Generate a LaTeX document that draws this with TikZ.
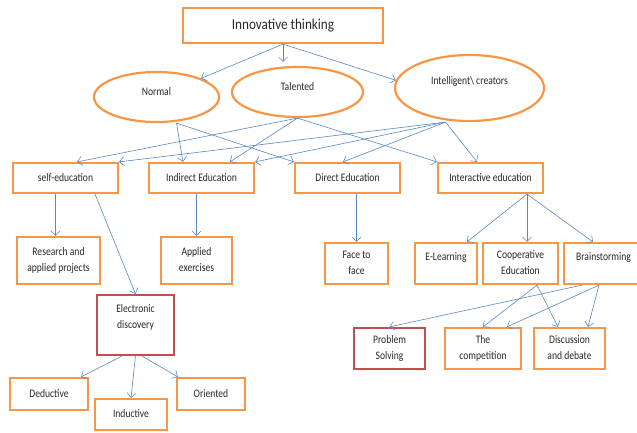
\documentclass[tikz,border=0pt]{standalone}
\usepackage{fontspec}
\setmainfont{Carlito}
\usepackage{graphicx}
\usepackage{tikz}
\usetikzlibrary{arrows.meta,shapes,positioning}
\definecolor{dforange}{RGB}{247,150,70}
\definecolor{dfred}{RGB}{192,80,77}
\definecolor{dfblue}{RGB}{88,136,196}
\definecolor{dftext}{RGB}{40,40,40}
\newcommand{\celltext}[1]{\scalebox{1}[1.2]{\begin{tabular}{@{}c@{}}#1\end{tabular}}}
\tikzstyle{arrow} = [line width=0.6pt,-{Straight Barb[length=4.5pt,width=9pt]},color=dfblue]
\tikzstyle{block} = [rectangle, draw=dforange, line width=2.2pt, inner sep=0pt, text=dftext, font=\fontsize{9.6}{13.5}\selectfont]
\tikzstyle{redblock} = [block, draw=dfred]
\tikzstyle{oval} = [block, ellipse]

\begin{document}
\begin{tikzpicture}[x=1pt, y=-1pt]
\useasboundingbox (0,0) rectangle (637,432);

% Root and the three kinds of learners
\node[block, minimum width=200pt, minimum height=35pt, font=\fontsize{13.2}{16}\selectfont] (think) at (283,25.5) {\scalebox{1}[1.15]{Innovative thinking}};
\node[oval, minimum width=125pt, minimum height=50pt, text depth=14pt] (normal) at (156.5,97) {\celltext{Normal}};
\node[oval, minimum width=131pt, minimum height=50pt, text depth=14pt] (talented) at (297.5,92) {\celltext{Talented}};
\node[oval, minimum width=149pt, minimum height=66pt, text depth=18pt] (intel) at (469.5,88) {\celltext{Intelligent\textbackslash{} creators}};

% Kinds of education
\node[block, minimum width=105pt, minimum height=30pt] (selfedu) at (65.5,178) {\celltext{self-education}};
\node[block, minimum width=105pt, minimum height=30pt] (indirect) at (201.5,178) {\celltext{Indirect Education}};
\node[block, minimum width=105pt, minimum height=30pt] (direct) at (347.5,178) {\celltext{Direct Education}};
\node[block, minimum width=105pt, minimum height=30pt] (interact) at (490.5,178) {\celltext{Interactive education}};

% Methods
\node[block, minimum width=83pt, minimum height=47pt] (research) at (58.5,260.5) {\celltext{Research and\\applied projects}};
\node[block, minimum width=71pt, minimum height=47pt] (applied) at (196.5,260.5) {\celltext{Applied\\exercises}};
\node[block, minimum width=63pt, minimum height=41pt] (face) at (356.5,263.5) {\celltext{Face to\\face}};
\node[block, minimum width=62pt, minimum height=41pt, text depth=18pt] (elearn) at (446,263.5) {\celltext{E-Learning}};
\node[block, minimum width=75pt, minimum height=41pt] (coop) at (520.5,263.5) {\celltext{Cooperative\\Education}};
\node[block, minimum width=79pt, minimum height=41pt, text depth=18pt] (brain) at (603.5,263.5) {\celltext{Brainstorming}};

\node[redblock, minimum width=77pt, minimum height=60pt, text depth=29pt] (electronic) at (135.5,325) {\celltext{Electronic\\discovery}};
\node[block, minimum width=78pt, minimum height=32pt] (deduct) at (49,394) {\celltext{Deductive}};
\node[block, minimum width=72pt, minimum height=31pt] (induct) at (131,414.5) {\celltext{Inductive}};
\node[block, minimum width=68pt, minimum height=32pt] (orient) at (211,394) {\celltext{Oriented}};

\node[redblock, minimum width=71pt, minimum height=41pt] (problem) at (389.5,348.5) {\celltext{Problem\\Solving}};
\node[block, minimum width=76pt, minimum height=41pt] (compet) at (483,348.5) {\celltext{The\\competition}};
\node[block, minimum width=71pt, minimum height=41pt] (discuss) at (569.5,348.5) {\celltext{Discussion\\and debate}};

% Arrows from the root
\draw[arrow] (think.south) -- (normal);
\draw[arrow, shorten >=4pt] (think.south) -- (think.south |- talented.north);
\draw[arrow] (think.south) -- (intel.174);

% Learners to education
\draw[arrow] ([xshift=20pt]normal.south) -- ([xshift=-18.5pt]indirect.north);
\draw[arrow] ([xshift=20pt]normal.south) -- (direct.north west);
\draw[arrow] (talented.south) -- ([xshift=11.5pt]selfedu.north);
\draw[arrow] (talented.south) -- ([xshift=28.5pt]indirect.north);
\draw[arrow] (talented.south) -- (interact.north west);
\draw[arrow] ([xshift=-24pt]intel.south) -- (selfedu.north east);
\draw[arrow] ([xshift=-24pt]intel.south) -- (indirect.north east);
\draw[arrow] ([xshift=-24pt]intel.south) -- ([xshift=-4.5pt]direct.north);
\draw[arrow] ([xshift=-24pt]intel.south) -- ([xshift=-13.5pt]interact.north);

% Education to methods
\draw[arrow] ([xshift=-10pt]selfedu.south) -- ([xshift=-10pt]selfedu.south |- research.north);
\draw[arrow] ([xshift=29.5pt]selfedu.south) -- (electronic.north);
\draw[arrow] (applied.north |- indirect.south) -- (applied.north);
\draw[arrow] (face.north |- direct.south) -- (face.north);
\draw[arrow] ([xshift=36.5pt]interact.south) -- ([xshift=21pt]elearn.north);
\draw[arrow] ([xshift=36.5pt]interact.south) -- ([xshift=6.5pt]coop.north);
\draw[arrow] ([xshift=36.5pt]interact.south) -- ([xshift=-10.5pt]brain.north);

% Electronic discovery
\draw[arrow] ([xshift=-13.5pt]electronic.south) -- ([xshift=32pt]deduct.north);
\draw[arrow] (electronic.south) -- (induct.north);
\draw[arrow] ([xshift=6.5pt]electronic.south) -- ([xshift=2pt]orient.north west);

% Cooperative education and brainstorming
\draw[arrow] ([xshift=16.5pt]coop.south) -- (compet.north);
\draw[arrow] ([xshift=16.5pt]coop.south) -- ([xshift=-11.5pt]discuss.north);
\draw[arrow] ([xshift=-21.5pt]brain.south) -- (problem.north);
\draw[arrow] ([xshift=-4.5pt]brain.south) -- ([xshift=24pt]compet.north);
\draw[arrow] ([xshift=-4.5pt]brain.south) -- ([xshift=18.5pt]discuss.north);
\end{tikzpicture}
\end{document}
